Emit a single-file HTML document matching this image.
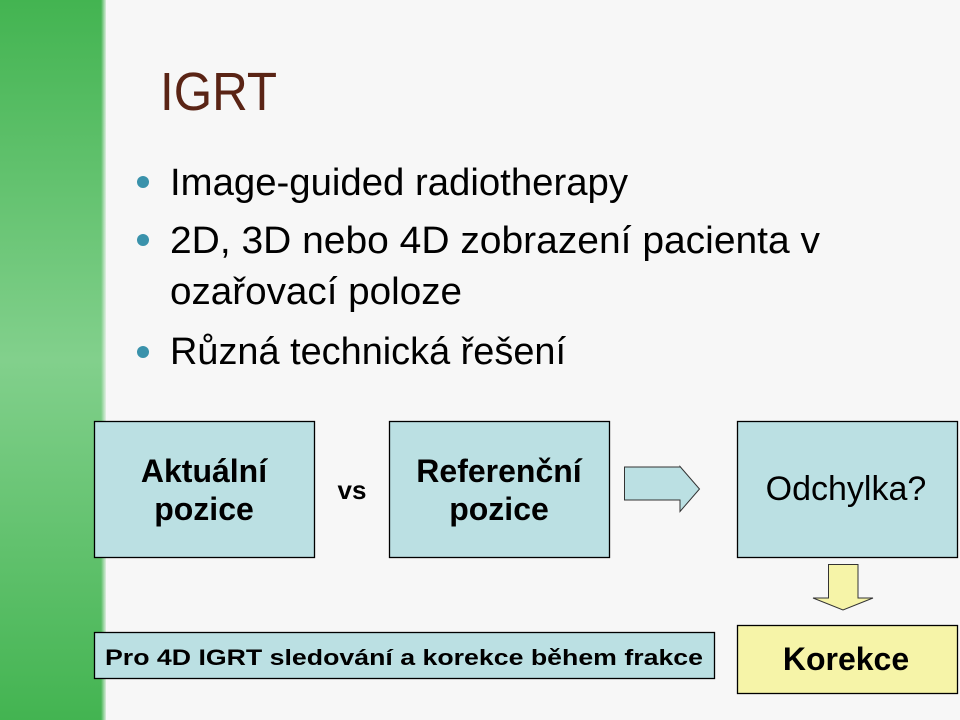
<!DOCTYPE html>
<html><head><meta charset="utf-8"><style>
html,body{margin:0;padding:0;background:#f7f7f7}
svg{display:block}
text{font-family:"Liberation Sans",sans-serif}
</style></head><body>
<svg width="960" height="720" viewBox="0 0 960 720" xmlns="http://www.w3.org/2000/svg">
<defs>
<linearGradient id="g" x1="0" y1="0" x2="0" y2="1">
<stop offset="0" stop-color="#43b451"/>
<stop offset="0.5" stop-color="#82d08c"/>
<stop offset="1" stop-color="#43b451"/>
</linearGradient>
<linearGradient id="h" x1="0" y1="0" x2="1" y2="0">
<stop offset="0" stop-color="#f7f7f7" stop-opacity="0"/>
<stop offset="1" stop-color="#f7f7f7" stop-opacity="1"/>
</linearGradient>
</defs>
<rect width="960" height="720" fill="#f7f7f7"/>
<rect x="0" y="0" width="106" height="720" fill="url(#g)"/>
<rect x="101" y="0" width="6" height="720" fill="url(#h)"/>
<text x="160" y="110" font-size="54" fill="#5a2415" textLength="117" lengthAdjust="spacingAndGlyphs">IGRT</text>
<g font-size="38" fill="#000">
<circle cx="143" cy="182" r="6" fill="#3a92ab"/>
<text x="170" y="195" textLength="458" lengthAdjust="spacingAndGlyphs">Image-guided radiotherapy</text>
<circle cx="143" cy="240" r="6" fill="#3a92ab"/>
<text x="170" y="253" textLength="650" lengthAdjust="spacingAndGlyphs">2D, 3D nebo 4D zobrazení pacienta v</text>
<text x="170" y="304" textLength="292" lengthAdjust="spacingAndGlyphs">ozařovací poloze</text>
<circle cx="143" cy="352" r="6" fill="#3a92ab"/>
<text x="170" y="364" textLength="396" lengthAdjust="spacingAndGlyphs">Různá technická řešení</text>
</g>
<g stroke="#000" stroke-width="1.3">
<rect x="94.5" y="421.5" width="220" height="136" fill="#bbe0e3"/>
<rect x="389.5" y="421.5" width="220" height="136" fill="#bbe0e3"/>
<rect x="737.5" y="421.5" width="220" height="136" fill="#bbe0e3"/>
<rect x="94.5" y="632.5" width="620" height="46" fill="#bbe0e3"/>
<rect x="737.5" y="625.5" width="220" height="68" fill="#f6f4a8"/>
</g>
<g stroke="#333" stroke-width="1">
<polygon points="624.5,467 680,467 680,466.5 699.5,489 680,511.5 680,500 624.5,500" fill="#bbe0e3"/>
<polygon points="828.5,564.5 858,564.5 858,598 873,598 843,610 813,598 828.5,598" fill="#f6f4a8"/>
</g>
<g font-size="32" font-weight="bold" fill="#000" text-anchor="middle">
<text x="204" y="482">Aktuální</text>
<text x="204" y="520">pozice</text>
<text x="352" y="499" font-size="26">vs</text>
<text x="499" y="482">Referenční</text>
<text x="499" y="520">pozice</text>
<text x="846" y="500" font-weight="normal" font-size="34">Odchylka?</text>
<text x="846" y="670" font-size="32">Korekce</text>
<text x="404" y="665" font-size="22" textLength="598" lengthAdjust="spacingAndGlyphs">Pro 4D IGRT sledování a korekce během frakce</text>
</g>
</svg>
</body></html>
